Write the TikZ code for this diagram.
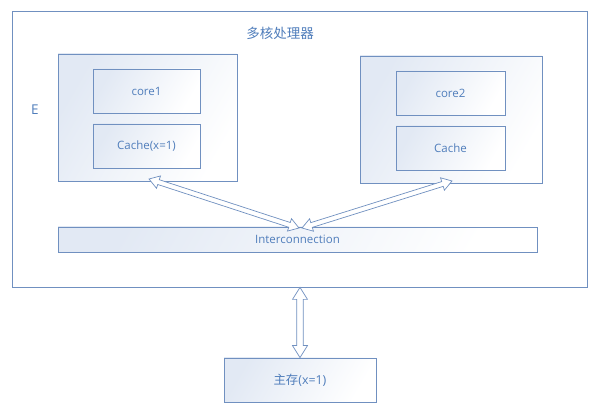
\documentclass[tikz,border=0pt]{standalone}
\usepackage{fontspec}
\setmainfont{Open Sans}
\newfontfamily\cjk{Noto Sans CJK SC}
\usetikzlibrary{calc}
\definecolor{ln}{HTML}{7090C0}
\definecolor{tx}{HTML}{4F7DBB}
\definecolor{sh}{HTML}{E2E9F4}
\tikzset{
  box/.style={draw=ln,line width=0.8pt,left color=sh,right color=white,shading angle=60,inner sep=0pt,text=tx,font=\fontsize{11.5}{13}\selectfont},
  plainbox/.style={draw=ln,line width=0.8pt,fill=white,inner sep=0pt},
  darr/.style={draw=ln,line width=0.7pt,fill=white,line join=miter},
}
\newcommand{\hollowarrow}[5]{% from, to, shaft half width, head half width, head length
  \coordinate (ha) at ($(#1)!#5!(#2)$);
  \coordinate (hb) at ($(#2)!#5!(#1)$);
  \draw[darr] (#1) -- ($(ha)!#4!90:(#2)$) -- ($(ha)!#3!90:(#2)$) -- ($(hb)!#3!-90:(#1)$)
    -- ($(hb)!#4!-90:(#1)$) -- (#2) -- ($(hb)!#4!90:(#1)$) -- ($(hb)!#3!90:(#1)$)
    -- ($(ha)!#3!-90:(#2)$) -- ($(ha)!#4!-90:(#2)$) -- cycle;
}
\begin{document}
\begin{tikzpicture}[x=1pt,y=-1pt]
\useasboundingbox (0,0) rectangle (600,419);
\node[plainbox,minimum width=575,minimum height=276] (outer) at (299.5,149) {};
\node[text=tx,font=\cjk\fontsize{13.5}{14}\selectfont] (title) at (280,33) {多核处理器};
\node[text=tx,font=\fontsize{13.5}{14}\selectfont] (e) at (35,110) {E};
\node[box,minimum width=179,minimum height=127] (left) at (147.5,117.5) {};
\node[box,minimum width=107,minimum height=44] (core1) at (146.5,91) {core1};
\node[box,minimum width=107,minimum height=44] (cache1) at (146.5,146) {Cache(x=1)};
\node[box,minimum width=182,minimum height=127] (right) at (451,119.5) {};
\node[box,minimum width=109,minimum height=44] (core2) at (450.5,93) {core2};
\node[box,minimum width=109,minimum height=44] (cache2) at (450.5,148) {Cache};
\node[box,minimum width=479,minimum height=25] (inter) at (297.5,239.5) {Interconnection};
\node[box,minimum width=152,minimum height=44,font=\fontsize{12.4}{13}\selectfont] (mem) at (300,380) {{\cjk 主存}(x=1)};
\coordinate (la) at (149,179);
\coordinate (lb) at (299,228);
\coordinate (ra) at (452,181);
\coordinate (rb) at (302,228);
\hollowarrow{la}{lb}{2.5pt}{6.5pt}{10pt}
\hollowarrow{ra}{rb}{2.5pt}{6.5pt}{10pt}
\coordinate (va) at (outer.south -| mem.north);
\hollowarrow{va}{mem.north}{3.2pt}{7.5pt}{12pt}
\end{tikzpicture}
\end{document}
